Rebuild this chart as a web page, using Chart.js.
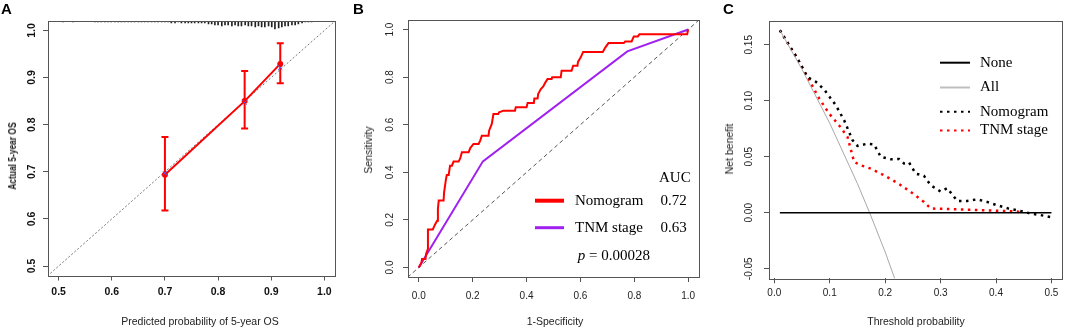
<!DOCTYPE html>
<html>
<head>
<meta charset="utf-8">
<script src="https://cdn.jsdelivr.net/npm/chart.js@4.4.0/dist/chart.umd.min.js"></script>
<style>
  body { margin: 0; background: #fff; }
  #wrap { position: relative; width: 1065px; height: 328px; overflow: hidden; font-family: "Liberation Sans", Arial, sans-serif; }
  canvas { position: absolute; top: 0; }
  .tag { position: absolute; font-weight: bold; font-size: 15px; line-height: 15px; color: #000; }
  .lab { position: absolute; font-size: 10.5px; line-height: 12px; color: #222; white-space: nowrap; transform: translate(-50%, -50%); }
  .lab.v { transform: translate(-50%, -50%) rotate(-90deg); }
</style>
</head>
<body>
<div id="wrap">
  <canvas id="cA" style="left:0px" width="355" height="328"></canvas>
  <canvas id="cB" style="left:355px" width="355" height="328"></canvas>
  <canvas id="cC" style="left:710px" width="355" height="328"></canvas>

  <div class="tag" style="left:1px;top:1px">A</div>
  <div class="tag" style="left:353px;top:1px">B</div>
  <div class="tag" style="left:723px;top:1px">C</div>

  <div class="lab" style="left:200px;top:321px">Predicted probability of 5-year OS</div>
  <div class="lab v" style="left:12px;top:156px;font-weight:bold;transform:translate(-50%,-50%) rotate(-90deg) scaleX(0.8)">Actual 5-year OS</div>
  <div class="lab" style="left:555px;top:321px">1-Specificity</div>
  <div class="lab v" style="left:368px;top:150px">Sensitivity</div>
  <div class="lab" style="left:916px;top:321px">Threshold probability</div>
  <div class="lab v" style="left:729px;top:149px">Net benefit</div>
</div>

<script>
'use strict';

// ---- A: calibration curve ----
const calPred = [0.700, 0.850, 0.917];
const calObs  = [0.694, 0.850, 0.929];
const calLo   = [0.618, 0.792, 0.888];
const calHi   = [0.774, 0.914, 0.973];
const calCorr = [0.697, 0.847, 0.921];
const rugX = [0.508, 0.527, 0.568, 0.574, 0.580, 0.587, 0.593, 0.599, 0.606, 0.612, 0.618, 0.624,
  0.631, 0.637, 0.643, 0.650, 0.656, 0.662, 0.668, 0.675, 0.681, 0.687, 0.694, 0.700, 0.706,
  0.712, 0.719, 0.725, 0.731, 0.738, 0.744, 0.750, 0.756, 0.763, 0.769, 0.775, 0.782, 0.788,
  0.794, 0.800, 0.807, 0.813, 0.819, 0.826, 0.832, 0.838, 0.844, 0.851, 0.857, 0.863,
  0.870, 0.876, 0.882, 0.888, 0.895, 0.901, 0.907, 0.914,
  0.920, 0.926, 0.932, 0.939, 0.945, 0.951, 0.958, 0.964, 0.970, 0.976];
const rugN = [1, 1, 1, 1, 1, 1, 1, 1, 1, 1, 1, 1,
  1, 1, 1, 1, 1, 1, 1, 1, 1, 1, 1, 1, 1,
  2, 2, 1, 2, 2, 2, 2, 2, 2, 2, 2, 3, 3,
  4, 4, 5, 4, 4, 5, 4, 5, 5, 4, 5, 5,
  6, 5, 6, 6, 5, 6, 8, 7,
  6, 5, 5, 4, 4, 3, 2, 1, 1, 1];
const ticksA = [0.5, 0.6, 0.7, 0.8, 0.9, 1.0];

// ---- B: ROC ----
const nomFpr = [0, 0.010, 0.012, 0.025, 0.027, 0.034, 0.034, 0.052, 0.060, 0.068, 0.071, 0.074,
  0.092, 0.094, 0.101, 0.104, 0.111, 0.116, 0.123, 0.129, 0.148, 0.154, 0.160, 0.185, 0.191,
  0.203, 0.222, 0.228, 0.234, 0.259, 0.261, 0.271, 0.277, 0.295, 0.298, 0.314, 0.357, 0.360,
  0.400, 0.404, 0.427, 0.429, 0.441, 0.443, 0.453, 0.462, 0.470, 0.478, 0.493, 0.495, 0.527,
  0.530, 0.567, 0.573, 0.589, 0.591, 0.601, 0.610, 0.683, 0.692, 0.704, 0.761, 0.766, 0.790,
  0.798, 0.813, 0.819, 0.990, 0.996, 1.0];
const nomTpr = [0, 0.020, 0.036, 0.036, 0.057, 0.078, 0.160, 0.160, 0.180, 0.196, 0.246, 0.281,
  0.281, 0.316, 0.372, 0.389, 0.389, 0.428, 0.428, 0.445, 0.445, 0.459, 0.484, 0.484, 0.502,
  0.519, 0.519, 0.533, 0.554, 0.554, 0.575, 0.603, 0.645, 0.645, 0.652, 0.659, 0.659, 0.673,
  0.673, 0.691, 0.691, 0.710, 0.710, 0.729, 0.750, 0.761, 0.778, 0.792, 0.792, 0.799, 0.799,
  0.827, 0.827, 0.848, 0.848, 0.864, 0.883, 0.906, 0.906, 0.924, 0.943, 0.943, 0.950, 0.950,
  0.971, 0.971, 0.980, 0.980, 0.980, 1.0];
const tnmFpr = [0, 0.238, 0.774, 1.0];
const tnmTpr = [0, 0.446, 0.908, 1.0];
const rocNames = ['Nomogram', 'TNM stage'];
const aucVals = ['0.72', '0.63'];
const pValue = '0.00028';
const ticksB = [0, 0.2, 0.4, 0.6, 0.8, 1.0];

// ---- C: decision curve ----
const thrNom = [0.01, 0.042, 0.06, 0.075, 0.09, 0.111, 0.126, 0.141, 0.15, 0.168, 0.18, 0.192,
  0.21, 0.225, 0.234, 0.243, 0.255, 0.27, 0.282, 0.30, 0.312, 0.33, 0.348, 0.366, 0.384,
  0.402, 0.423, 0.444, 0.462, 0.48, 0.50];
const nbNom = [0.163, 0.1375, 0.121, 0.117, 0.110, 0.096, 0.0825, 0.065, 0.0597, 0.0617, 0.061,
  0.050, 0.0478, 0.048, 0.044, 0.045, 0.035, 0.033, 0.0246, 0.019, 0.022, 0.0106, 0.0106,
  0.012, 0.0097, 0.0067, 0.0037, 0.0017, -0.0007, -0.002, -0.004];
const thrTnm = [0.01, 0.042, 0.06, 0.081, 0.099, 0.117, 0.132, 0.144, 0.156, 0.174, 0.198, 0.222,
  0.246, 0.27, 0.282, 0.306, 0.342, 0.378, 0.408, 0.438, 0.45];
const nbTnm = [0.163, 0.1375, 0.121, 0.102, 0.0885, 0.078, 0.0677, 0.0454, 0.0424, 0.0394,
  0.0335, 0.0267, 0.0186, 0.0097, 0.0038, 0.0035, 0.0029, 0.0023, 0.0017, 0.0011, 0];
const thrAll = [0.01, 0.05, 0.10, 0.15, 0.172, 0.20, 0.25];
const nbAll = [0.163, 0.128, 0.080, 0.026, 0, -0.035, -0.104];
const thrNone = [0.01, 0.50];
const nbNone = [0, 0];
const ticksCx = [0, 0.1, 0.2, 0.3, 0.4, 0.5];
const ticksCy = [-0.05, 0, 0.05, 0.10, 0.15];

Chart.defaults.font.family = "'Liberation Sans', Arial, sans-serif";
Chart.defaults.animation = false;
Chart.defaults.events = [];
Chart.defaults.plugins.legend.display = false;
Chart.defaults.plugins.tooltip.enabled = false;

const pts = (xs, ys) => xs.map((x, i) => ({x: x, y: ys[i]}));

// R-like axis: fixed limits, ticks only where given, marks outside the box
function rAxis(lim, ticks) {
  return {
    type: 'linear', min: lim[0], max: lim[1], offset: false,
    afterBuildTicks: s => { s.ticks = ticks.map(v => ({value: v})); },
    afterFit: s => { if (s.isHorizontal()) s.height = 0; else s.width = 0; },
    ticks: {display: false},
    grid: {drawOnChartArea: false, drawTicks: true, tickLength: 5, color: '#555', offset: false},
    border: {display: false}
  };
}

// box + rotated tick labels, like base R graphics
const rFrame = {
  id: 'rFrame',
  afterDraw(chart, args, o) {
    const {ctx, chartArea: a, scales} = chart;
    ctx.save();
    ctx.strokeStyle = '#555';
    ctx.lineWidth = 1;
    ctx.strokeRect(Math.round(a.left) + 0.5, Math.round(a.top) + 0.5,
      Math.round(a.right - a.left), Math.round(a.bottom - a.top));
    ctx.fillStyle = o.color;
    ctx.font = o.font;
    ctx.textAlign = 'center';
    ctx.textBaseline = 'middle';
    scales.x.ticks.forEach(t => {
      ctx.fillText(t.value.toFixed(o.xDigits), scales.x.getPixelForValue(t.value), a.bottom + o.xGap);
    });
    scales.y.ticks.forEach(t => {
      ctx.save();
      ctx.translate(a.left - o.yGap, scales.y.getPixelForValue(t.value));
      ctx.rotate(-Math.PI / 2);
      ctx.fillText(t.value.toFixed(o.yDigits), 0, 0);
      ctx.restore();
    });
    ctx.restore();
  }
};

// legend drawn inside the plot, R style
const rLegend = {
  id: 'rLegend',
  afterDraw(chart, args, o) {
    if (!o.rows) return;
    const ctx = chart.ctx;
    ctx.save();
    ctx.font = o.font;
    ctx.fillStyle = '#000';
    ctx.textBaseline = 'middle';
    ctx.textAlign = 'left';
    o.rows.forEach((r, i) => {
      const ds = chart.data.datasets[r.ds];
      const y = o.y[i];
      ctx.strokeStyle = r.color || ds.borderColor;
      ctx.lineWidth = r.lw;
      ctx.setLineDash(ds.borderDash || []);
      ctx.beginPath();
      ctx.moveTo(o.x0, y);
      ctx.lineTo(o.x1, y);
      ctx.stroke();
      ctx.fillText(ds.label, o.tx, y);
      if (r.extra) ctx.fillText(r.extra, o.vx, y);
    });
    if (o.header) ctx.fillText(o.header.text, o.header.x, o.header.y);
    if (o.footer) {
      ctx.font = 'italic ' + o.font;
      ctx.fillText('p', o.footer.x, o.footer.y);
      const w = ctx.measureText('p').width;
      ctx.font = o.font;
      ctx.fillText(' = ' + o.footer.text, o.footer.x + w, o.footer.y);
    }
    ctx.restore();
  }
};

Chart.register(rFrame, rLegend);

// ---- panel A ----
const errSets = calPred.map((x, i) => ({
  type: 'line', data: [{x: x, y: calLo[i]}, {x: x, y: calHi[i]}],
  borderColor: '#ff0000', borderWidth: 2, pointStyle: 'line', pointRadius: 3.5,
  pointBorderColor: '#ff0000', pointBorderWidth: 2
}));
new Chart(document.getElementById('cA'), {
  type: 'scatter',
  data: {
    datasets: [
      {data: pts(calPred, calCorr), pointStyle: 'crossRot', pointRadius: 3,
        pointBorderColor: '#4a5cff', pointBorderWidth: 1, showLine: false},
      {data: pts(calPred, calObs), showLine: true, borderColor: '#ff0000', borderWidth: 2,
        pointRadius: 2, pointBackgroundColor: '#ff0000', pointBorderColor: '#ff0000'},
      ...errSets,
      {type: 'bar', data: rugX.map((x, i) => ({x: x, y: [1.02 - rugN[i] * 0.0021, 1.02]})),
        backgroundColor: '#222', barThickness: 1, grouped: false},
      {data: [{x: 0.4, y: 0.4}, {x: 1.1, y: 1.1}], showLine: true, borderColor: '#777',
        borderWidth: 1, borderDash: [2, 2], pointRadius: 0}
    ]
  },
  options: {
    responsive: false, devicePixelRatio: 1,
    layout: {padding: {left: 48, right: 20, top: 21, bottom: 52.5}},
    scales: {x: rAxis([0.48, 1.02], ticksA), y: rAxis([0.48, 1.02], ticksA)},
    plugins: {rFrame: {font: 'bold 10.5px "Liberation Sans", Arial', color: '#111', xDigits: 1, yDigits: 1, xGap: 17, yGap: 16}}
  }
});

// ---- panel B ----
new Chart(document.getElementById('cB'), {
  type: 'scatter',
  data: {
    datasets: [
      {label: rocNames[0], data: pts(nomFpr, nomTpr), showLine: true, borderColor: '#ff0000',
        borderWidth: 2, pointRadius: 0},
      {label: rocNames[1], data: pts(tnmFpr, tnmTpr), showLine: true, borderColor: '#a020f0',
        borderWidth: 2, pointRadius: 0},
      {data: [{x: -0.1, y: -0.1}, {x: 1.1, y: 1.1}], showLine: true, borderColor: '#555',
        borderWidth: 1, borderDash: [4, 3], pointRadius: 0}
    ]
  },
  options: {
    responsive: false, devicePixelRatio: 1,
    layout: {padding: {left: 53, right: 11, top: 20, bottom: 51}},
    scales: {x: rAxis([-0.04, 1.04], ticksB), y: rAxis([-0.04, 1.04], ticksB)},
    plugins: {
      rFrame: {font: '10px "Liberation Sans", Arial', color: '#222', xDigits: 1, yDigits: 1, xGap: 19, yGap: 17.5},
      rLegend: {
        font: '15px "Liberation Serif", "Times New Roman", serif',
        x0: 180, x1: 209, tx: 220, vx: 305.5, y: [200.7, 227.7],
        rows: [{ds: 0, lw: 4, extra: aucVals[0]}, {ds: 1, lw: 3, extra: aucVals[1]}],
        header: {text: 'AUC', x: 304, y: 178.3},
        footer: {text: pValue, x: 222.7, y: 256}
      }
    }
  }
});

// ---- panel C ----
new Chart(document.getElementById('cC'), {
  type: 'scatter',
  data: {
    datasets: [
      {label: 'None', data: pts(thrNone, nbNone), showLine: true, borderColor: '#000',
        borderWidth: 1.5, pointRadius: 0},
      {label: 'All', data: pts(thrAll, nbAll), showLine: true, borderColor: '#a8a8a8',
        borderWidth: 1, pointRadius: 0},
      {label: 'Nomogram', data: pts(thrNom, nbNom), showLine: true, borderColor: '#000',
        borderWidth: 2.5, borderDash: [2.5, 4.5], pointRadius: 0},
      {label: 'TNM stage', data: pts(thrTnm, nbTnm), showLine: true, borderColor: '#ff0000',
        borderWidth: 2.5, borderDash: [2.5, 4.5], pointRadius: 0}
    ]
  },
  options: {
    responsive: false, devicePixelRatio: 1,
    layout: {padding: {left: 59, right: 2.7, top: 20.7, bottom: 49.7}},
    scales: {x: rAxis([-0.0096, 0.5196], ticksCx), y: rAxis([-0.0585, 0.1715], ticksCy)},
    plugins: {
      rFrame: {font: '10px "Liberation Sans", Arial', color: '#222', xDigits: 1, yDigits: 2, xGap: 15, yGap: 19.5},
      rLegend: {
        font: '15px "Liberation Serif", "Times New Roman", serif',
        x0: 230, x1: 260, tx: 270, vx: 0, y: [62.7, 87.5, 111.7, 130.5],
        rows: [{ds: 0, lw: 2}, {ds: 1, lw: 2, color: '#bebebe'}, {ds: 2, lw: 2}, {ds: 3, lw: 2}]
      }
    }
  }
});
</script>
</body>
</html>
